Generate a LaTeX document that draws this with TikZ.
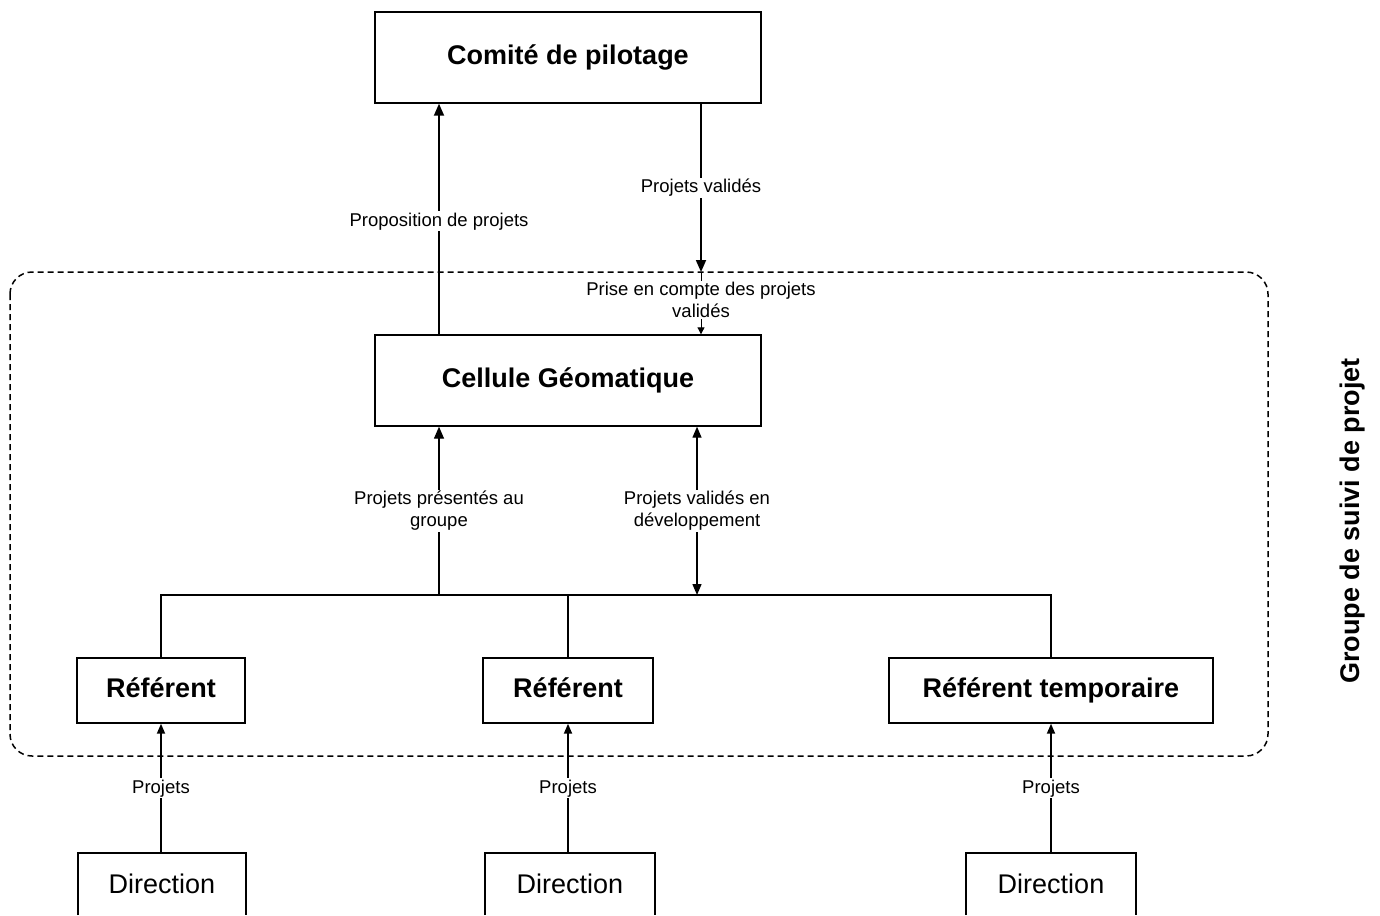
\documentclass[tikz,border=0pt]{standalone}
\usepackage{fontspec}
\setmainfont{Liberation Sans}
\usetikzlibrary{arrows.meta}
\begin{document}
\begin{tikzpicture}[x=1pt,y=-1pt,
  box/.style={draw, line width=1.4pt, inner sep=0pt, anchor=center, text height=19pt, text depth=5pt},
  bigbold/.style={font=\fontsize{27}{30}\selectfont\bfseries},
  bigreg/.style={font=\fontsize{27}{30}\selectfont},
  lbl/.style={fill=white, inner sep=1.5pt, align=center, font=\fontsize{18.5}{22}\selectfont},
  arr/.style={line width=1.8pt, -{Triangle[length=12pt,width=10pt]}},
  smallarr/.style={line width=1.8pt, -{Triangle[length=10pt,width=8pt]}},
  darr/.style={line width=1.4pt, {Triangle[length=11pt,width=9pt]}-{Triangle[length=11pt,width=9pt]}},
  thinarr/.style={line width=1pt, -{Triangle[length=7pt,width=7pt]}},
  frame/.style={line width=1.5pt, dash pattern=on 6pt off 4pt, rounded corners=22pt}
]
\useasboundingbox (0,0) rectangle (1380,915);
\clip (0,0) rectangle (1380,915);
\fill[white] (0,0) rectangle (1380,915);

% frame
\draw[frame] (10,272) rectangle (1268,756);

% boxes
\node[box, bigbold, minimum width=386pt, minimum height=91pt] (cp) at (568,57.5) {Comité de pilotage};
\node[box, bigbold, minimum width=386pt, minimum height=91pt] (cg) at (568,380.5) {Cellule Géomatique};
\node[box, bigbold, minimum width=168pt, minimum height=65pt] (r1) at (161,690.5) {Référent};
\node[box, bigbold, minimum width=170pt, minimum height=65pt] (r2) at (568,690.5) {Référent};
\node[box, bigbold, minimum width=324pt, minimum height=65pt] (r3) at (1051,690.5) {Référent temporaire};

\node[bigreg, inner sep=0pt, minimum width=168pt, minimum height=62pt] (d1) at (162,884) {Direction};
\node[bigreg, inner sep=0pt, minimum width=170pt, minimum height=62pt] (d2) at (570,884) {Direction};
\node[bigreg, inner sep=0pt, minimum width=170pt, minimum height=62pt] (d3) at (1051,884) {Direction};
\foreach \d in {d1,d2,d3}
  \draw[line width=1.6pt] (\d.south west) -- (\d.north west) -- (\d.north east) -- (\d.south east);

% side label
\node[rotate=90, font=\fontsize{27}{30}\selectfont\bfseries] (grp) at (1352,521) {Groupe de suivi de projet};

% helper coordinates
\coordinate (xL) at (439,0);
\coordinate (xR) at (701,0);
\coordinate (xD) at (697,0);
\coordinate (fr) at (701,272);
\coordinate (b1) at (161,595);
\coordinate (b3) at (1051,595);

% top arrows
\draw[arr] (cg.north -| xL) -- node[lbl, pos=0.49] {Proposition de projets} (cp.south -| xL);
\draw[arr] (cp.south -| xR) -- node[lbl] {Projets validés} (fr);
\draw[thinarr] (fr) -- node[lbl, pos=0.45] {Prise en compte des projets\\validés} (cg.north -| xR);

% bus
\draw[line width=1.2pt] (r1.north) -- (b1) -- (b3) -- (r3.north);
\draw[line width=1.2pt] (r2.north) -- (r2.north |- b1);

% middle arrows
\draw[arr, line width=1.4pt] (b1 -| xL) -- node[lbl] {Projets présentés au\\groupe} (cg.south -| xL);
\draw[darr] (b1 -| xD) -- node[lbl] {Projets validés en\\développement} (cg.south -| xD);

% bottom arrows
\draw[smallarr] (d1.north -| r1.south) -- node[lbl] {Projets} (r1.south);
\draw[smallarr] (d2.north -| r2.south) -- node[lbl] {Projets} (r2.south);
\draw[smallarr] (d3.north -| r3.south) -- node[lbl] {Projets} (r3.south);
\end{tikzpicture}
\end{document}
